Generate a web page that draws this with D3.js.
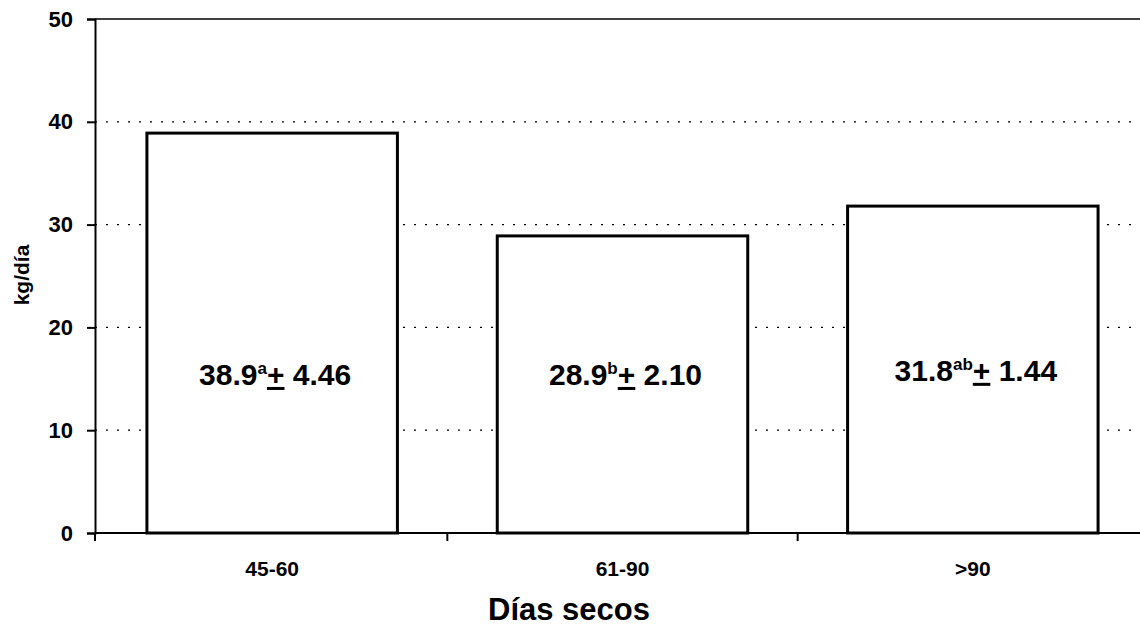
<!DOCTYPE html>
<html><head><meta charset="utf-8">
<script src="https://cdn.jsdelivr.net/npm/d3@7"></script>
<style>body{margin:0;background:#fff}svg{display:block}text{font-family:"Liberation Sans",Arial,sans-serif;font-weight:bold;fill:#000}</style>
</head><body>
<svg id="c" width="1140" height="629"></svg>
<script>
const categories = ["45-60", "61-90", ">90"];
const values = [38.9, 28.9, 31.8];
const letters = ["a", "b", "ab"];
const errors = ["4.46", "2.10", "1.44"];
const yTicks = [0, 10, 20, 30, 40, 50];
const labelY = [14.4, 14.4, 14.8];

const svg = d3.select("#c");
const x0 = 95, x1 = 1140;
const y = d3.scaleLinear().domain([0, 50]).range([533, 19]);
const x = d3.scaleBand().domain(categories).range([97, 1148]).paddingInner(0.285).paddingOuter(0.1425);

// grid
svg.append("g").selectAll("line").data([10, 20, 30, 40]).join("line")
  .attr("x1", x0).attr("x2", x1).attr("y1", d => y(d)).attr("y2", d => y(d))
  .attr("stroke", "#000").attr("stroke-width", 1.3).attr("stroke-dasharray", "2,9");
// top line
svg.append("line").attr("x1", x0).attr("x2", x1).attr("y1", y(50)).attr("y2", y(50))
  .attr("stroke", "#000").attr("stroke-width", 1.5);

// bars
svg.append("g").selectAll("rect").data(values).join("rect")
  .attr("x", (d, i) => x(categories[i])).attr("width", x.bandwidth())
  .attr("y", d => y(d)).attr("height", d => y(0) - y(d))
  .attr("fill", "#fff").attr("stroke", "#000").attr("stroke-width", 3);

// y axis
const ya = svg.append("g").attr("transform", `translate(${x0},0)`)
  .call(d3.axisLeft(y).tickValues(yTicks).tickSize(8).tickPadding(14));
ya.select(".domain").attr("stroke-width", 2);
ya.selectAll(".tick line").attr("stroke-width", 2);
ya.selectAll("text").style("font-size", "22px").style("font-family", "'Liberation Sans',Arial,sans-serif").style("font-weight", "bold");

// x axis
const xb = d3.scaleLinear().domain([0, 3]).range([97, 1148]);
svg.append("line").attr("x1", x0).attr("x2", x1).attr("y1", y(0)).attr("y2", y(0)).attr("stroke", "#000").attr("stroke-width", 2);
svg.append("g").selectAll("line").data([0, 1, 2]).join("line")
  .attr("x1", d => d === 0 ? x0 : xb(d)).attr("x2", d => d === 0 ? x0 : xb(d))
  .attr("y1", y(0)).attr("y2", y(0) + 8).attr("stroke", "#000").attr("stroke-width", 2);
svg.append("g").selectAll("text").data(categories).join("text")
  .attr("x", d => x(d) + x.bandwidth() / 2).attr("y", 576)
  .attr("text-anchor", "middle").style("font-size", "21px").text(d => d);

// titles
svg.append("text").attr("x", 569).attr("y", 620).attr("text-anchor", "middle").style("font-size", "31px").text("Días secos");
svg.append("text").attr("transform", "translate(29,275) rotate(-90)").attr("text-anchor", "middle").style("font-size", "21px").text("kg/día");

// bar labels
const lg = svg.append("g").selectAll("text").data(values).join("text")
  .attr("x", (d, i) => x(categories[i]) + x.bandwidth() / 2 + 3)
  .attr("y", (d, i) => y(labelY[i]))
  .attr("text-anchor", "middle").style("font-size", "30px");
lg.append("tspan").text(d => d.toFixed(1));
lg.append("tspan").attr("dy", -11).style("font-size", "17px").text((d, i) => letters[i]);
lg.append("tspan").attr("dy", 11).style("text-decoration", "underline").text("+");
lg.append("tspan").text((d, i) => " " + errors[i]);
</script>
</body></html>
